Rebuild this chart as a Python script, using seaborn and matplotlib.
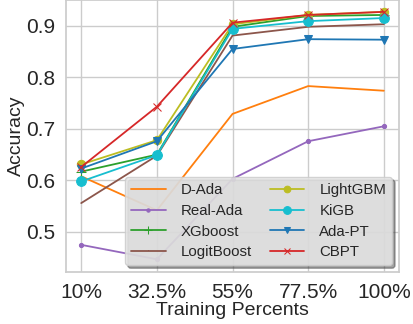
import numpy as np
import pandas as pd
import seaborn as sns
import matplotlib.pyplot as plt

sns.set_theme(style="whitegrid")
plt.rcParams["font.family"] = ["Liberation Sans", "DejaVu Sans"]

percents = [10, 32.5, 55, 77.5, 100]
tick_labels = ["10%", "32.5%", "55%", "77.5%", "100%"]

d_ada = [0.608, 0.542, 0.729, 0.783, 0.774]
real_ada = [0.475, 0.447, 0.603, 0.676, 0.705]
xgboost = [0.617, 0.650, 0.898, 0.919, 0.921]
logitboost = [0.556, 0.648, 0.881, 0.898, 0.903]
lightgbm = [0.631, 0.678, 0.903, 0.921, 0.927]
kigb = [0.598, 0.649, 0.894, 0.909, 0.915]
ada_pt = [0.623, 0.676, 0.855, 0.874, 0.873]
cbpt = [0.626, 0.743, 0.906, 0.921, 0.927]

series = [
    ("D-Ada", d_ada, "tab:orange", None, 6),
    ("Real-Ada", real_ada, "tab:purple", ".", 6),
    ("XGboost", xgboost, "tab:green", "+", 7),
    ("LogitBoost", logitboost, "tab:brown", ",", 6),
    ("LightGBM", lightgbm, "tab:olive", "o", 6),
    ("KiGB", kigb, "tab:cyan", "o", 7),
    ("Ada-PT", ada_pt, "tab:blue", "v", 6),
    ("CBPT", cbpt, "tab:red", "x", 6),
]

fig, ax = plt.subplots(figsize=(4.13, 3.24), dpi=100)

for name, vals, color, marker, ms in series:
    df = pd.DataFrame({"x": percents, "y": vals})
    sns.lineplot(data=df, x="x", y="y", ax=ax, color=color, marker=marker,
                 markersize=ms, markeredgecolor=color, label=name, linewidth=1.3)

ax.set_xticks(percents)
ax.set_xticklabels(tick_labels)
ax.set_ylim(0.422, 0.95)
ax.set_yticks([0.5, 0.6, 0.7, 0.8, 0.9])
ax.tick_params(axis="both", labelsize=15, pad=2)
ax.set_xlabel("Training Percents", fontsize=14, labelpad=0)
ax.set_ylabel("Accuracy", fontsize=14, labelpad=1)

leg = ax.legend(ncol=2, loc="lower right", fontsize=10.8, shadow=True,
                frameon=True, facecolor="#e8e8e8", edgecolor="#cccccc",
                framealpha=0.85, columnspacing=1.2, handlelength=2.3,
                labelspacing=0.45, handletextpad=1.0, borderaxespad=0.45,
                markerscale=0.8)

plt.subplots_adjust(left=0.16, right=0.966, top=1.0, bottom=0.16)
plt.savefig("out.png", dpi=100)
